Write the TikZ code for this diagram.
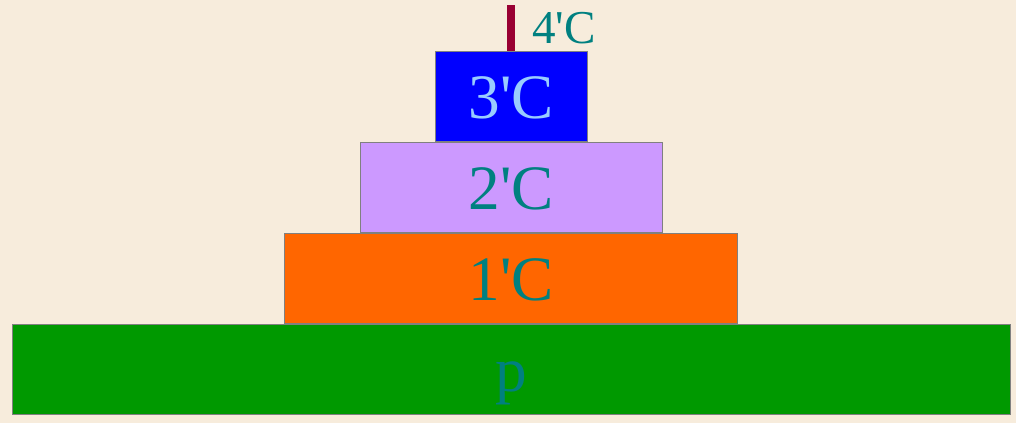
\documentclass[tikz,border=0pt]{standalone}
\usepackage{fontspec}
\setmainfont{Liberation Serif}
\usepackage{xcolor}
\usetikzlibrary{positioning}

\definecolor{paper}{HTML}{F7ECDC}
\definecolor{layergreen}{HTML}{009900}
\definecolor{layerorange}{HTML}{FF6600}
\definecolor{layerlilac}{HTML}{CC99FF}
\definecolor{layerblue}{HTML}{0000FF}
\definecolor{tealtext}{HTML}{008080}
\definecolor{palebluetext}{HTML}{99CCFF}
\definecolor{barred}{HTML}{990033}

\tikzset{
  layer/.style={draw=gray, line width=0.6pt, minimum height=2.25cm,
    inner sep=0pt, text=tealtext, text height=32pt, text depth=0pt,
    font=\fontsize{45}{50}\selectfont},
}

\begin{document}
\begin{tikzpicture}
  \fill[paper] (0,0) rectangle (25.4,10.575);
  \useasboundingbox (0,0) rectangle (25.4,10.575);
  % base and stacked layers
  \node[layer, fill=layergreen, minimum width=24.95cm] (p) at (12.775,1.35) {p};
  \node[layer, fill=layerorange, minimum width=11.325cm, above=0pt of p] (c1) {1\textquotesingle C};
  \node[layer, fill=layerlilac, minimum width=7.55cm, above=0pt of c1] (c2) {2\textquotesingle C};
  \node[layer, fill=layerblue, minimum width=3.8cm, text=palebluetext, above=0pt of c2] (c3) {3\textquotesingle C};
  % thin bar on top
  \node[fill=barred, minimum width=0.2cm, minimum height=1.15cm, inner sep=0pt, above=0pt of c3] (c4) {};
  \node[text=tealtext, inner sep=0pt, text height=22.7pt, text depth=0pt,
    font=\fontsize{33.5}{36}\selectfont, right=0.42cm of c4] (c4label) {4\textquotesingle C};
\end{tikzpicture}
\end{document}
